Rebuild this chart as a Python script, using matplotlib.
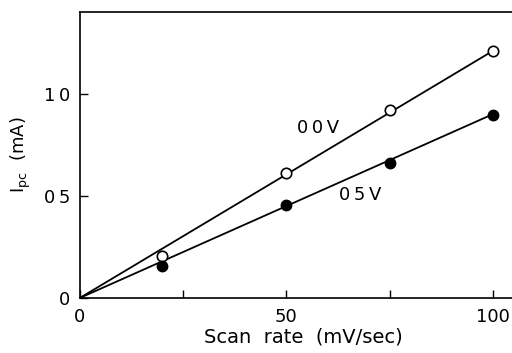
import matplotlib.pyplot as plt

# Data
scan_rate = [20, 50, 75, 100]
ipc_00v = [0.205, 0.61, 0.92, 1.21]   # open circles, 0 0 V
ipc_05v = [0.157, 0.456, 0.66, 0.897]  # filled circles, 0 5 V

# fitted lines drawn through the origin
fit_x = [0, 100]
fit_00v = [0, 1.21]
fit_05v = [0, 0.90]

x_ticks = [0, 50, 100]
x_minor = [25, 75]
y_ticks = [0, 0.5, 1.0]
y_ticklabels = ["0", "0\u20095", "1\u20090"]

plt.rcParams["font.family"] = ["DejaVu Sans"]

fig = plt.figure(figsize=(5.12, 3.53), dpi=100)
ax = fig.add_axes([0.156, 0.156, 0.844, 0.81])

ax.plot(fit_x, fit_00v, color="black", linewidth=1.3)
ax.plot(fit_x, fit_05v, color="black", linewidth=1.3)
ax.plot(scan_rate, ipc_00v, "o", markersize=7.5, markerfacecolor="white",
        markeredgecolor="black", markeredgewidth=1.2)
ax.plot(scan_rate, ipc_05v, "o", markersize=7.5, markerfacecolor="black",
        markeredgecolor="black")

ax.text(57.6, 0.83, "0\u20090\u2009V", fontsize=13, ha="center", va="center")
ax.text(67.8, 0.505, "0\u20095\u2009V", fontsize=13, ha="center", va="center")

ax.set_xlim(0, 104.6)
ax.set_ylim(0, 1.40)
ax.set_xticks(x_ticks)
ax.set_xticks(x_minor, minor=True)
ax.set_yticks(y_ticks)
ax.set_yticklabels(y_ticklabels)
ax.tick_params(direction="in", length=6, width=1, labelsize=13, pad=7)
ax.tick_params(which="minor", direction="in", length=6, width=1)
ax.spines["right"].set_visible(False)
for s in ["left", "bottom", "top"]:
    ax.spines[s].set_linewidth(1.2)

ax.set_xlabel("Scan  rate  (mV/sec)", fontsize=14)
ax.xaxis.set_label_coords(0.518, -0.105)
ax.set_ylabel(r"I$_{\rm pc}$  (mA)", fontsize=13, labelpad=8)

fig.savefig("out.png", dpi=100)
